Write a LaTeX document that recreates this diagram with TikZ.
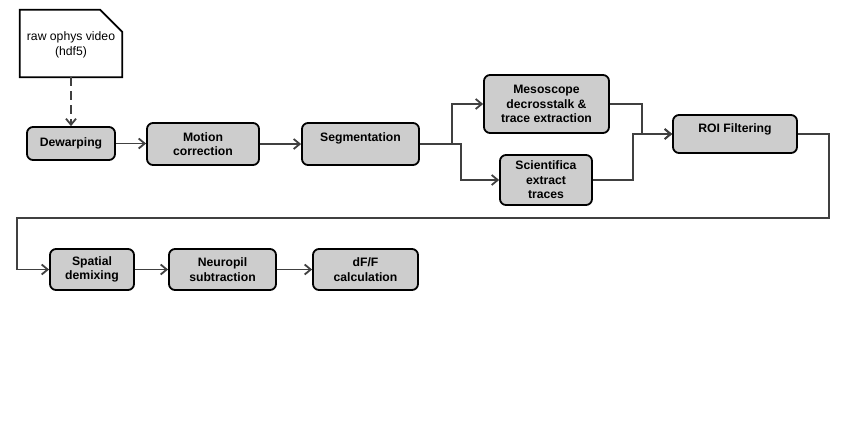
\documentclass[tikz,border=0pt]{standalone}
\usepackage{fontspec}
\setmainfont{Liberation Sans}
\usetikzlibrary{arrows.meta}
\definecolor{boxfill}{HTML}{CDCDCD}
\definecolor{linegray}{HTML}{404040}
\tikzset{
  box/.style={draw=black, fill=boxfill, line width=1.8pt, rounded corners=6pt,
    align=center, inner sep=0pt, font=\fontsize{12.2}{14.5}\selectfont\bfseries},
  txt/.style={align=center, inner sep=0pt, font=\fontsize{12.2}{14.5}\selectfont\bfseries},
  arr/.style={draw=linegray, line width=1.8pt,
    -{Straight Barb[length=6pt,width=10pt,line width=1.8pt]}},
}
\begin{document}
\begin{tikzpicture}[x=1pt,y=-1pt]
\useasboundingbox (0,0) rectangle (851,426);
% document shape
\node[minimum width=102pt, minimum height=67pt, inner sep=0pt] (doc) at (71,43.5) {};
\draw[line width=1.8pt, fill=white] (doc.south west) -- (doc.north west) -- ([xshift=-22pt]doc.north east)
  -- ([yshift=-22pt]doc.north east) -- (doc.south east) -- cycle;
\node[align=center, inner sep=0pt, font=\fontsize{12.2}{15}\selectfont] (doctxt) at (71,45) {raw ophys video\\(hdf5)};
% boxes
\node[box, minimum width=88pt, minimum height=33pt] (dew) at (71,143.5) {Dewarping};
\node[box, minimum width=112pt, minimum height=42pt] (mot) at (203,144) {Motion\\correction};
\node[box, minimum width=117pt, minimum height=42pt] (seg) at (360.5,144) {};
\node[txt] (segtxt) at (360.5,138) {Segmentation};
\node[box, minimum width=125pt, minimum height=58pt] (meso) at (546.5,104) {Mesoscope\\decrosstalk \&\\trace extraction};
\node[box, minimum width=92pt, minimum height=50pt] (sci) at (546,180) {Scientifica\\extract\\traces};
\node[box, minimum width=124pt, minimum height=38pt] (roi) at (735,134) {};
\node[txt] (roitxt) at (735,129) {ROI Filtering};
\node[box, minimum width=84pt, minimum height=41pt] (spat) at (92,269.5) {Spatial\\demixing};
\node[box, minimum width=107pt, minimum height=41pt] (neu) at (222.5,269.5) {Neuropil\\subtraction};
\node[box, minimum width=105pt, minimum height=41pt] (dff) at (365.5,269.5) {dF/F\\calculation};
% connectors
\draw[arr, dash pattern=on 9pt off 5pt] (doc.south) -- (dew.north);
\draw[arr] (dew.east) -- (dew.east -| mot.west);
\draw[arr] (mot.east) -- (mot.east -| seg.west);
\draw[arr] (seg.east) -- ++(32,0) |- (meso.west);
\draw[arr] (seg.east) -- ++(41,0) |- (sci.west);
\draw[arr] (meso.east) -- ++(32,0) |- (roi.west);
\draw[arr] (sci.east) -- ++(40,0) |- (roi.west);
\coordinate (c1) at (829,218);
\coordinate (c2) at (17,218);
\draw[arr] (roi.east) -| (c1) -- (c2) |- (spat.west);
\draw[arr] (spat.east) -- (neu.west);
\draw[arr] (neu.east) -- (dff.west);
\end{tikzpicture}
\end{document}
